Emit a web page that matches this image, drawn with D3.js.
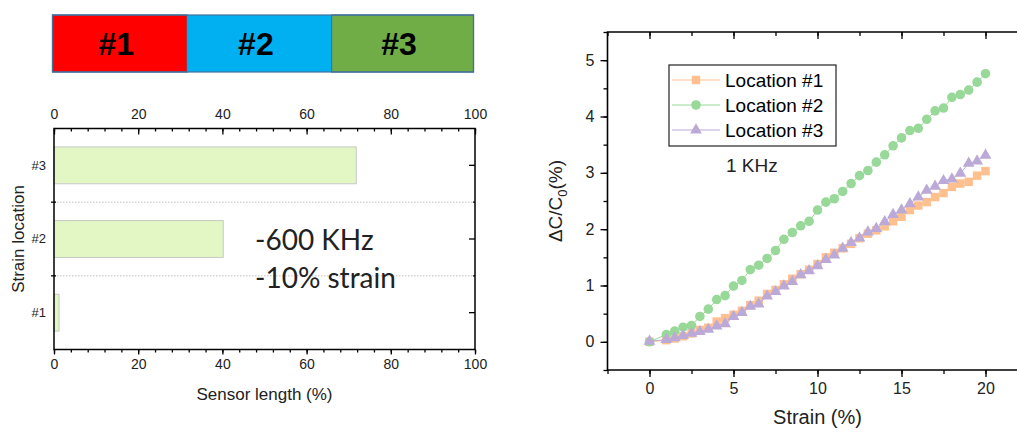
<!DOCTYPE html>
<html>
<head>
<meta charset="utf-8">
<script src="https://cdn.jsdelivr.net/npm/d3@7/dist/d3.min.js"></script>
<style>
  body { margin: 0; background: #fff; }
  svg { display: block; font-family: "Liberation Sans", Arial, sans-serif; }
</style>
</head>
<body>
<div id="chart"></div>
<script>
// ---- data ----
const segLabels = ['#1', '#2', '#3'];
const segEnds = [0, 32, 66.3, 100];
const segColors = ['#ff0000', '#00b0f0', '#70ad47'];

const locations = ['#1', '#2', '#3'];
const sensorLength = [1.2, 40.2, 71.8];

const strain = [0, 1, 1.5, 2, 2.5, 3, 3.5, 4, 4.5, 5, 5.5, 6, 6.5, 7, 7.5, 8, 8.5, 9, 9.5, 10,
  10.5, 11, 11.5, 12, 12.5, 13, 13.5, 14, 14.5, 15, 15.5, 16, 16.5, 17, 17.5, 18, 18.5, 19, 19.5, 20];
const loc1 = [0, 0.03, 0.06, 0.10, 0.15, 0.21, 0.25, 0.36, 0.42, 0.48, 0.55, 0.65, 0.73, 0.85, 0.92, 1.02, 1.12, 1.20, 1.28, 1.38,
  1.50, 1.58, 1.66, 1.74, 1.84, 1.92, 1.98, 2.05, 2.14, 2.22, 2.34, 2.42, 2.48, 2.57, 2.64, 2.75, 2.81, 2.84, 2.95, 3.03];
const loc2 = [0, 0.13, 0.19, 0.26, 0.29, 0.45, 0.58, 0.75, 0.82, 0.99, 1.09, 1.28, 1.36, 1.48, 1.62, 1.82, 1.94, 2.06, 2.14, 2.34,
  2.48, 2.54, 2.67, 2.81, 2.95, 3.04, 3.19, 3.32, 3.48, 3.62, 3.75, 3.79, 3.95, 4.10, 4.15, 4.34, 4.39, 4.47, 4.61, 4.76];
const loc3 = [0.01, 0.04, 0.07, 0.11, 0.15, 0.18, 0.22, 0.28, 0.32, 0.45, 0.52, 0.63, 0.67, 0.81, 0.89, 0.99, 1.07, 1.19, 1.26, 1.35,
  1.46, 1.54, 1.66, 1.76, 1.84, 1.95, 2.01, 2.13, 2.26, 2.34, 2.45, 2.57, 2.69, 2.76, 2.86, 2.89, 2.99, 3.17, 3.21, 3.31];
const seriesNames = ['Location #1', 'Location #2', 'Location #3'];
const seriesColors = ['#ffc08f', '#98d898', '#bba9d7'];
const seriesSymbols = [d3.symbolSquare, d3.symbolCircle, d3.symbolTriangle];

const svg = d3.select('#chart').append('svg')
  .attr('width', 1017)
  .attr('height', 432);

// ---- left: sensor bar + horizontal bar chart ----
const lx = d3.scaleLinear().domain([0, 100]).range([54, 475]);
const ly = d3.scaleBand().domain(['#3', '#2', '#1']).range([128.5, 349.5])
  .paddingInner(0.5).paddingOuter(0.25);

// colored sensor strip
const strip = svg.append('g');
strip.selectAll('rect')
  .data(segLabels)
  .join('rect')
  .attr('x', (d, i) => lx(segEnds[i]) - 1.5)
  .attr('y', 15)
  .attr('width', (d, i) => lx(segEnds[i + 1]) - lx(segEnds[i]))
  .attr('height', 57)
  .attr('fill', (d, i) => segColors[i])
  .attr('stroke', (d, i) => i === 1 ? 'none' : '#41719c')
  .attr('stroke-width', 1.2);
strip.append('rect')
  .attr('x', lx(0) - 1.5).attr('y', 15)
  .attr('width', lx(100) - lx(0)).attr('height', 57)
  .attr('fill', 'none').attr('stroke', '#41719c').attr('stroke-width', 1.2);
strip.selectAll('text')
  .data(segLabels)
  .join('text')
  .attr('x', (d, i) => (lx(segEnds[i]) + lx(segEnds[i + 1])) / 2 - 5)
  .attr('y', 55)
  .attr('text-anchor', 'middle')
  .style('font-size', '32px')
  .style('font-weight', 'bold')
  .text(d => d);

const left = svg.append('g');

// dotted separators between bands
const bounds = [ly('#3') + ly.bandwidth() + ly.step() * 0.25, ly('#2') + ly.bandwidth() + ly.step() * 0.25];
left.selectAll('line.sep')
  .data(bounds)
  .join('line')
  .attr('class', 'sep')
  .attr('x1', lx(0)).attr('x2', lx(100))
  .attr('y1', d => d).attr('y2', d => d)
  .attr('stroke', '#c0c0c0')
  .attr('stroke-dasharray', '1.5,1.5');

// bars
left.selectAll('rect.bar')
  .data(locations)
  .join('rect')
  .attr('class', 'bar')
  .attr('x', lx(0))
  .attr('y', d => ly(d))
  .attr('width', (d, i) => lx(sensorLength[i]) - lx(0))
  .attr('height', ly.bandwidth())
  .attr('fill', '#e2f7c4')
  .attr('stroke', '#c8c8c8')
  .attr('stroke-width', 1);

function styleAxis(g, size) {
  g.select('.domain').remove();
  g.selectAll('line').attr('stroke', '#000').attr('stroke-width', 1.3);
  g.selectAll('text').style('font-size', size).attr('fill', '#222');
}

// bottom axis
const lMinor = d3.range(0, 101, 4);
const lMajor = [0, 20, 40, 60, 80, 100];
left.append('g')
  .attr('transform', `translate(0,${ly.range()[1]})`)
  .call(d3.axisBottom(lx).tickValues(lMinor).tickSize(3).tickFormat(''))
  .call(g => styleAxis(g, '14px'));
left.append('g')
  .attr('transform', `translate(0,${ly.range()[1]})`)
  .call(d3.axisBottom(lx).tickValues(lMajor).tickSize(5).tickPadding(5))
  .call(g => styleAxis(g, '14px'));
// top axis, ticks inward, labels above the strip gap
left.append('g')
  .attr('transform', `translate(0,${ly.range()[0]})`)
  .call(d3.axisBottom(lx).tickValues(lMinor).tickSize(3).tickFormat(''))
  .call(g => styleAxis(g, '14px'));
left.append('g')
  .attr('transform', `translate(0,${ly.range()[0]})`)
  .call(d3.axisBottom(lx).tickValues(lMajor).tickSize(6).tickFormat(''))
  .call(g => styleAxis(g, '14px'));
left.append('g')
  .attr('transform', `translate(0,${ly.range()[0] - 10})`)
  .call(d3.axisTop(lx).tickValues(lMajor).tickSize(0).tickPadding(0))
  .call(g => styleAxis(g, '14px'));

// left axis: labels at band centres, ticks at band boundaries
left.append('g')
  .attr('transform', `translate(${lx(0)},0)`)
  .call(d3.axisLeft(ly).tickSize(0).tickPadding(8))
  .call(g => styleAxis(g, '13px'));
left.selectAll('line.ltick')
  .data(bounds)
  .join('line')
  .attr('x1', lx(0) - 3).attr('x2', lx(0) + 2)
  .attr('y1', d => d).attr('y2', d => d)
  .attr('stroke', '#000').attr('stroke-width', 1.3);
// right axis ticks inward at band centres
left.append('g')
  .attr('transform', `translate(${lx(100)},0)`)
  .call(d3.axisLeft(ly).tickSize(6).tickFormat(''))
  .call(g => styleAxis(g, '13px'));
left.selectAll('line.rtick')
  .data(bounds)
  .join('line')
  .attr('x1', lx(100) - 2).attr('x2', lx(100))
  .attr('y1', d => d).attr('y2', d => d)
  .attr('stroke', '#000').attr('stroke-width', 1.3);

// frame
left.append('rect')
  .attr('x', lx(0)).attr('y', ly.range()[0])
  .attr('width', lx(100) - lx(0)).attr('height', ly.range()[1] - ly.range()[0])
  .attr('fill', 'none').attr('stroke', '#000').attr('stroke-width', 1.5);

left.append('text')
  .attr('x', (lx(0) + lx(100)) / 2).attr('y', 400)
  .attr('text-anchor', 'middle')
  .style('font-size', '17px').attr('fill', '#222')
  .text('Sensor length (%)');
left.append('text')
  .attr('transform', `translate(24,${(ly.range()[0] + ly.range()[1]) / 2}) rotate(-90)`)
  .attr('text-anchor', 'middle')
  .style('font-size', '17px').attr('fill', '#222')
  .text('Strain location');

const note = left.append('g')
  .style('font-family', 'Lato, "Open Sans", sans-serif')
  .style('font-size', '28px').attr('fill', '#222');
note.append('text').attr('x', 255).attr('y', 250).text('-600 KHz');
note.append('text').attr('x', 255).attr('y', 288).text('-10% strain');

// ---- right: capacitance vs strain ----
const rx = d3.scaleLinear().domain([-2.5, 22.5]).range([607.5, 1027.5]);
const ry = d3.scaleLinear().domain([-0.5, 5.5]).range([370, 32]);
const right = svg.append('g');

const xMinor = d3.range(-2.5, 22.6, 2.5);
const xMajor = [0, 5, 10, 15, 20];
const yMinor = d3.range(-0.5, 5.6, 0.5);
const yMajor = [0, 1, 2, 3, 4, 5];
const fmt = d3.format('d');

right.append('g')
  .attr('transform', `translate(0,${ry(-0.5)})`)
  .call(d3.axisBottom(rx).tickValues(xMinor).tickSize(4).tickFormat(''))
  .call(g => styleAxis(g, '16px'));
right.append('g')
  .attr('transform', `translate(0,${ry(-0.5)})`)
  .call(d3.axisBottom(rx).tickValues(xMajor).tickSize(7).tickPadding(6).tickFormat(fmt))
  .call(g => styleAxis(g, '16px'));
right.append('g')
  .attr('transform', `translate(0,${ry(5.5)})`)
  .call(d3.axisBottom(rx).tickValues(xMinor).tickSize(4).tickFormat(''))
  .call(g => styleAxis(g, '16px'));
right.append('g')
  .attr('transform', `translate(0,${ry(5.5)})`)
  .call(d3.axisBottom(rx).tickValues(xMajor).tickSize(7).tickFormat(''))
  .call(g => styleAxis(g, '16px'));
right.append('g')
  .attr('transform', `translate(${rx(-2.5)},0)`)
  .call(d3.axisLeft(ry).tickValues(yMinor).tickSize(4).tickFormat(''))
  .call(g => styleAxis(g, '16px'));
right.append('g')
  .attr('transform', `translate(${rx(-2.5)},0)`)
  .call(d3.axisLeft(ry).tickValues(yMajor).tickSize(7).tickPadding(6).tickFormat(fmt))
  .call(g => styleAxis(g, '16px'));

right.append('path')
  .attr('d', `M${rx(22.5)},${ry(5.5)}H${rx(-2.5)}V${ry(-0.5)}H${rx(22.5)}`)
  .attr('fill', 'none').attr('stroke', '#000').attr('stroke-width', 1.6);

const series = [loc1, loc2, loc3];
const line = d3.line().x(d => rx(d[0])).y(d => ry(d[1]));
series.forEach((vals, s) => {
  const pts = strain.map((x, i) => [x, vals[i]]);
  const g = right.append('g');
  g.append('path')
    .attr('d', line(pts))
    .attr('fill', 'none')
    .attr('stroke', seriesColors[s])
    .attr('stroke-width', 1);
  g.selectAll('path.m')
    .data(pts)
    .join('path')
    .attr('class', 'm')
    .attr('transform', d => `translate(${rx(d[0])},${ry(d[1])})`)
    .attr('d', d3.symbol().type(seriesSymbols[s]).size(s === 2 ? 60 : 72))
    .attr('fill', seriesColors[s]);
});

// legend
const leg = right.append('g');
leg.append('rect')
  .attr('x', 669).attr('y', 65).attr('width', 167).attr('height', 81)
  .attr('fill', '#fff').attr('stroke', '#222').attr('stroke-width', 1.2);
seriesNames.forEach((name, s) => {
  const yy = 80 + s * 25;
  leg.append('line')
    .attr('x1', 672).attr('x2', 720).attr('y1', yy).attr('y2', yy)
    .attr('stroke', seriesColors[s]).attr('stroke-width', 1);
  leg.append('path')
    .attr('transform', `translate(696,${yy})`)
    .attr('d', d3.symbol().type(seriesSymbols[s]).size(s === 2 ? 60 : 72))
    .attr('fill', seriesColors[s]);
  leg.append('text')
    .attr('x', 725).attr('y', yy + 7)
    .style('font-size', '19px').attr('fill', '#000')
    .text(name);
});
right.append('text')
  .attr('x', 726).attr('y', 172)
  .style('font-size', '19px').attr('fill', '#222')
  .text('1 KHz');

right.append('text')
  .attr('x', rx(10)).attr('y', 424)
  .attr('text-anchor', 'middle')
  .style('font-size', '20px').attr('fill', '#222')
  .text('Strain (%)');
const yl = right.append('text')
  .attr('transform', `translate(562,${(ry(-0.5) + ry(5.5)) / 2}) rotate(-90)`)
  .attr('text-anchor', 'middle')
  .style('font-size', '19px').attr('fill', '#222');
yl.append('tspan').text('\u0394C/C');
yl.append('tspan').attr('dy', 5).style('font-size', '13px').text('0');
yl.append('tspan').attr('dy', -5).text('(%)');
</script>
</body>
</html>
